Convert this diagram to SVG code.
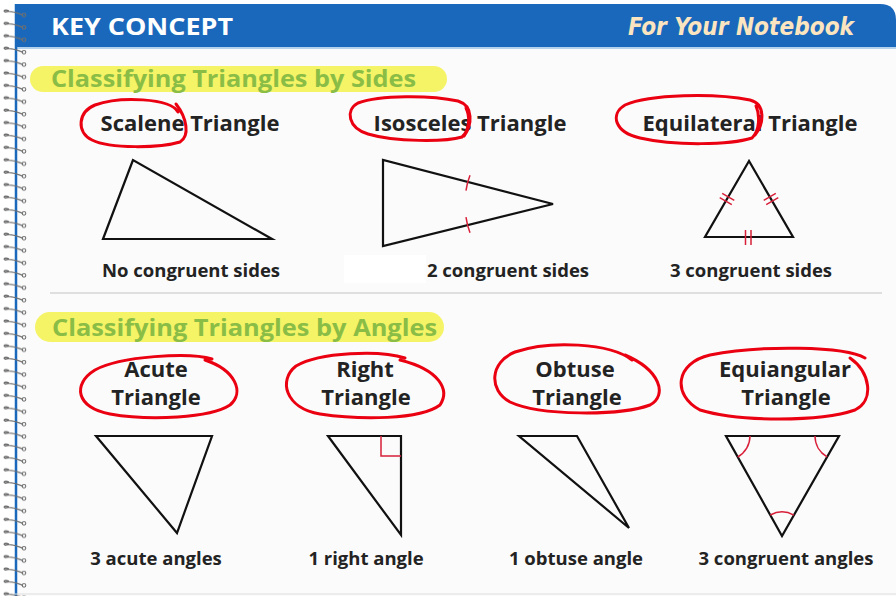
<svg xmlns="http://www.w3.org/2000/svg" width="896" height="596" viewBox="0 0 896 596">
<defs>
<style>
.title{font-family:"Open Sans","Noto Sans",sans-serif;font-weight:700;font-size:22px;fill:#232323;text-anchor:middle}
.lab{font-family:"Open Sans","Noto Sans",sans-serif;font-weight:700;font-size:18.5px;fill:#232323;text-anchor:middle}
.head{font-family:"Open Sans","Noto Sans",sans-serif;font-weight:700;font-size:24px;fill:#8abd46}
.tri{fill:none;stroke:#111;stroke-width:2.2;stroke-linejoin:miter}
.mark{fill:none;stroke:#d8203a;stroke-width:1.5}
.loop{fill:none;stroke:#ea0010;stroke-width:3;stroke-linecap:round;stroke-linejoin:round}
.pill{fill:#f5f366}
</style>
<pattern id="spiral" x="0" y="8" width="30" height="12.4" patternUnits="userSpaceOnUse">
<path d="M9,3 C5,1 3,3 5,4 M5,4 C11,2 18,5 23,7" fill="none" stroke="#6f6f6f" stroke-width="1.4"/>
<circle cx="24" cy="7" r="1.8" fill="none" stroke="#6f6f6f" stroke-width="1.1"/>
</pattern>
</defs>
<rect width="896" height="596" fill="#ffffff"/>
<rect x="15" y="47" width="881" height="549" fill="#fbfbfb"/>
<g id="header">
<path d="M15,4 H880 Q896,4 896,20 V47 H15 Z" fill="#1a68bb"/>
<line x1="15" y1="48" x2="896" y2="48" stroke="#9cc3e8" stroke-width="1.5"/>
<text x="51" y="35" font-family="'Open Sans','Noto Sans',sans-serif" font-weight="700" font-size="24" fill="#ffffff" textLength="182" lengthAdjust="spacingAndGlyphs">KEY CONCEPT</text>
<text x="628" y="35" font-family="'DejaVu Sans',sans-serif" font-weight="700" font-style="italic" font-size="25" fill="#fbe5c0" textLength="226" lengthAdjust="spacingAndGlyphs">For Your Notebook</text>
</g>
<g id="binding">
<line x1="16" y1="4" x2="16" y2="596" stroke="#1a68bb" stroke-width="2.5"/>
<rect x="0" y="8" width="30" height="588" fill="url(#spiral)"/>
</g>
<g id="sides-heading">
<rect class="pill" x="30" y="66" width="417" height="26" rx="13"/>
<text class="head" x="51" y="87" textLength="365" lengthAdjust="spacingAndGlyphs">Classifying Triangles by Sides</text>
</g>
<line x1="50" y1="293" x2="882" y2="293" stroke="#c4c4c4" stroke-width="1.2"/>
<line x1="15" y1="594" x2="896" y2="594" stroke="#dddddd" stroke-width="1"/>
<g id="angles-heading">
<rect class="pill" x="35" y="312" width="409" height="30" rx="15"/>
<text class="head" x="52" y="336" textLength="385" lengthAdjust="spacingAndGlyphs">Classifying Triangles by Angles</text>
</g>
<g id="scalene">
<text class="title" x="190" y="131">Scalene Triangle</text>
<polygon class="tri" points="133,160 103,239 272,239"/>
<text class="lab" x="191" y="277">No congruent sides</text>
</g>
<g id="isosceles">
<text class="title" x="470" y="131">Isosceles Triangle</text>
<polygon class="tri" points="383,160 383,246 553,204"/>
<path class="mark" d="M470,175.3 Q467,183 466,190.7 M466,217.2 Q467,225 470,232.8"/>
<rect x="344" y="255" width="82" height="28" fill="#ffffff"/>
<text class="lab" x="508" y="277">2 congruent sides</text>
</g>
<g id="equilateral">
<text class="title" x="750" y="131">Equilateral Triangle</text>
<polygon class="tri" points="749,161 705,237 793,237"/>
<path class="mark" d="M719.7,197.7 L731.8,204.7 M722.2,193.3 L734.3,200.3 M763.7,200.3 L775.8,193.3 M766.2,204.7 L778.3,197.7 M745.5,230 V245 M751,230 V245"/>
<text class="lab" x="751" y="277">3 congruent sides</text>
</g>
<g id="acute">
<text class="title" x="156" y="377">Acute</text>
<text class="title" x="156" y="405">Triangle</text>
<polygon class="tri" points="96,436 212,436 177,533"/>
<text class="lab" x="156" y="565">3 acute angles</text>
</g>
<g id="right">
<text class="title" x="365" y="377">Right</text>
<text class="title" x="366" y="405">Triangle</text>
<polygon class="tri" points="328,436 401,436 401,535"/>
<path class="mark" d="M381,436 V456 H401"/>
<text class="lab" x="366" y="565">1 right angle</text>
</g>
<g id="obtuse">
<text class="title" x="575" y="377">Obtuse</text>
<text class="title" x="577" y="405">Triangle</text>
<polygon class="tri" points="519,436 577,436 629,528"/>
<text class="lab" x="576" y="565">1 obtuse angle</text>
</g>
<g id="equiangular">
<text class="title" x="785" y="377">Equiangular</text>
<text class="title" x="786" y="405">Triangle</text>
<polygon class="tri" points="726,436 839,436 782,536"/>
<path class="mark" d="M750,436 A24,24 0 0 1 737.7,457 M815,436 A24,24 0 0 0 827.1,456.9 M770.3,515 A24,24 0 0 1 793.9,515.1"/>
<text class="lab" x="786" y="565">3 congruent angles</text>
</g>
<g id="annotations">
<path class="loop" d="M178,112 C170,98 120,96 95,105 C78,112 76,132 92,140 C110,149 160,148 180,142 C190,136 187,118 176,104"/>
<path class="loop" d="M464,136 C472,125 474,106 458,101 C430,95 380,95 358,103 C345,110 348,128 368,134 C395,142 445,142 462,137 C470,130 470,116 466,108"/>
<path class="loop" d="M755,135 C764,124 766,104 750,100 C715,93 650,94 625,105 C610,114 614,132 640,138 C675,146 730,145 752,138 C760,130 760,115 756,106"/>
<path class="loop" d="M212,359 C190,352 120,356 95,370 C72,384 76,408 110,414 C150,421 210,418 230,405 C245,392 235,370 205,360"/>
<path class="loop" d="M405,358 C380,350 320,352 296,366 C278,380 285,408 320,414 C360,420 420,420 440,405 C450,390 440,370 400,360"/>
<path class="loop" d="M632,360 C610,343 550,340 515,352 C490,362 488,390 510,402 C540,416 620,416 650,405 C668,395 660,370 625,355"/>
<path class="loop" d="M865,358 C845,346 760,345 710,355 C675,363 672,395 700,410 C740,422 820,422 855,410 C875,400 870,372 850,358"/>
</g>
</svg>
